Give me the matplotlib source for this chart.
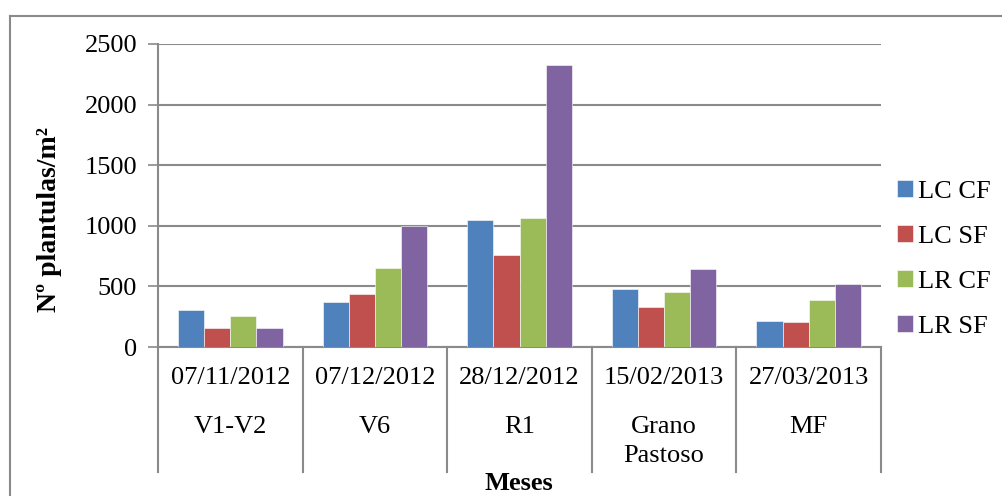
import numpy as np
import matplotlib
matplotlib.use('Agg')
import matplotlib.pyplot as plt
from matplotlib.lines import Line2D
from matplotlib.transforms import blended_transform_factory

plt.rcParams['font.family'] = ['Liberation Serif', 'DejaVu Serif']

# datos: plantulas por m2 en cada fecha de muestreo
fechas = ['07/11/2012', '07/12/2012', '28/12/2012', '15/02/2013', '27/03/2013']
estadios = ['V1-V2', 'V6', 'R1', 'Grano\nPastoso', 'MF']
series = ['LC CF', 'LC SF', 'LR CF', 'LR SF']
lc_cf = [305, 375, 1045, 478, 217]
lc_sf = [155, 437, 756, 327, 209]
lr_cf = [258, 649, 1064, 453, 388]
lr_sf = [155, 1000, 2327, 641, 520]
colores = ['#4F81BD', '#C0504D', '#9BBB59', '#8064A2']

W, H = 1003, 496
fig = plt.figure(figsize=(W / 100, H / 100), dpi=100)
ax = fig.add_axes([158 / W, (H - 347) / H, (881 - 158) / W, (347 - 44) / H])

x = np.arange(len(fechas))
ancho = 0.181
for k, (vals, nombre) in enumerate(zip([lc_cf, lc_sf, lr_cf, lr_sf], series)):
    ax.bar(x + (k - 1.5) * ancho, vals, ancho, color=colores[k], label=nombre,
           edgecolor='white', linewidth=0.4, zorder=3)

gris = '#8a8a8a'
ax.set_xlim(-0.5, len(fechas) - 0.5)
ax.set_ylim(0, 2500)
ax.set_yticks(np.arange(0, 2501, 500))
ax.yaxis.grid(True, color=gris, linewidth=1.5, zorder=0)
ax.tick_params(axis='y', labelsize=19, length=7, width=1.2, color=gris, pad=8)
ax.set_xticks([])
for lado in ['top', 'right']:
    ax.spines[lado].set_visible(False)
for lado in ['left', 'bottom']:
    ax.spines[lado].set_color(gris)
    ax.spines[lado].set_linewidth(1.5)

# etiquetas de dos niveles bajo el eje x
trans = blended_transform_factory(ax.transData, ax.transAxes)
abajo = -(472 - 347) / 303
for b in np.arange(-0.5, len(fechas), 1.0):
    ax.add_line(Line2D([b, b], [0, abajo], transform=trans, color=gris,
                       linewidth=1.5, clip_on=False))
for i in x:
    ax.text(i, -(378 - 347) / 303, fechas[i], transform=trans, ha='center',
            va='center', fontsize=19)
    ax.text(i, -(416 - 347) / 303, estadios[i], transform=trans, ha='center',
            va='top', fontsize=19, linespacing=1.42)

fig.text(519 / W, 1 - 484 / H, 'Meses', ha='center', va='center',
         fontsize=19, fontweight='bold')
fig.text(50 / W, 1 - 220 / H, 'Nº plantulas/m²', ha='center', va='center',
         rotation=90, fontsize=20, fontweight='bold')

ax.legend(loc='center left', bbox_to_anchor=(897 / W, 1 - 259 / H),
          bbox_transform=fig.transFigure, frameon=False, fontsize=19,
          handlelength=0.6, handleheight=0.6, handletextpad=0.2,
          labelspacing=0.85, borderpad=0, borderaxespad=0)

# marco exterior del grafico
fig.add_artist(Line2D([10 / W, 10 / W], [0, 1 - 16 / H], color=gris, linewidth=1.5))
fig.add_artist(Line2D([10 / W, 1], [1 - 16 / H, 1 - 16 / H], color=gris, linewidth=1.5))

fig.savefig('out.png', dpi=100)
